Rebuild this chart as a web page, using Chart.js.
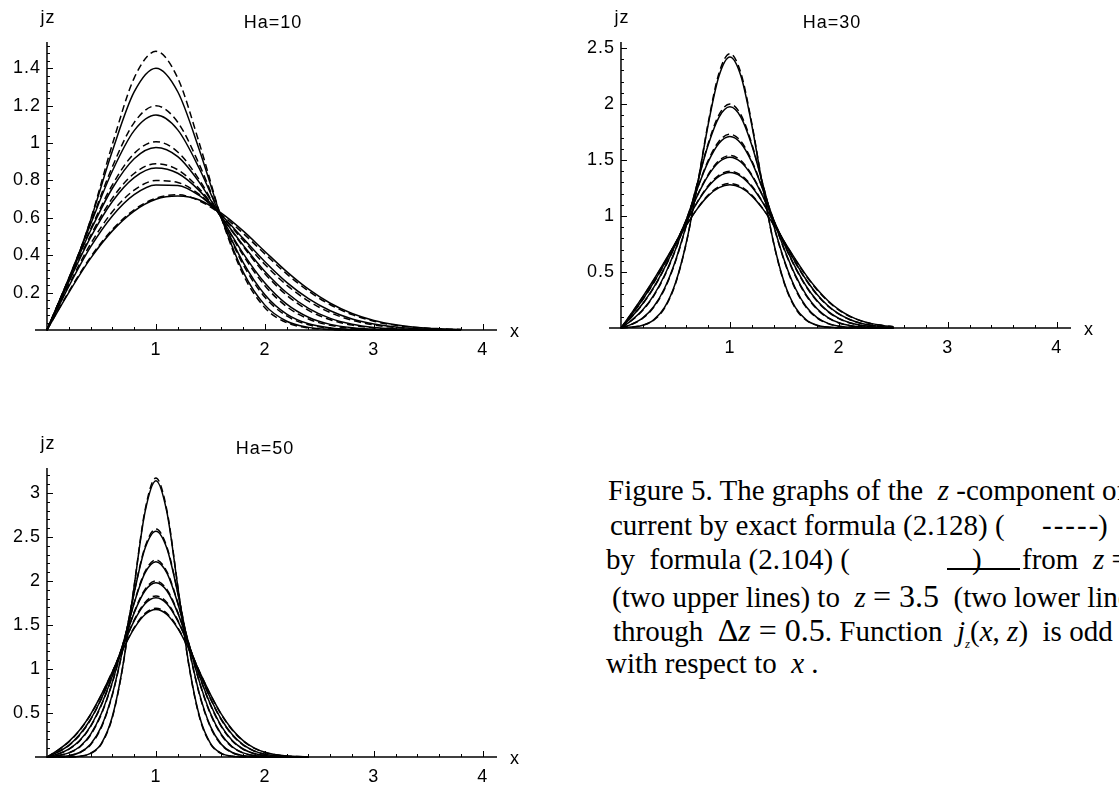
<!DOCTYPE html>
<html>
<head>
<meta charset="utf-8">
<script src="https://cdn.jsdelivr.net/npm/chart.js@4.4.0/dist/chart.umd.min.js"></script>
<style>
  html, body { margin: 0; padding: 0; background: #fff; }
  body { width: 1119px; height: 785px; overflow: hidden; position: relative; }
  .plot { position: absolute; }
  .cap { position: absolute; font-family: "Liberation Serif", "Times New Roman", serif; font-size: 29px; line-height: 1; color: #000; white-space: nowrap; }
  .cap i { font-style: italic; }
  .big { font-size: 32px; }
  .rule { position: absolute; height: 2px; background: #000; }
</style>
</head>
<body>
<div class="plot" style="left:0;top:0"><canvas id="ha10" width="560" height="370"></canvas></div>
<div class="plot" style="left:560px;top:0"><canvas id="ha30" width="559" height="370"></canvas></div>
<div class="plot" style="left:0;top:400px"><canvas id="ha50" width="560" height="385"></canvas></div>

<div class="cap" style="left:608px;top:476px">Figure 5. The graphs of the&nbsp; <i>z</i> -component of the</div>
<div class="cap" style="left:610px;top:511px">current by exact formula (2.128) (</div>
<div class="cap" style="left:1042px;top:511px;letter-spacing:2px">-----</div>
<div class="cap" style="left:1098px;top:511px">)&nbsp;&nbsp; and</div>
<div class="cap" style="left:606px;top:545px">by&nbsp; formula (2.104) (</div>
<div class="cap" style="left:972px;top:545px">)</div>
<div class="rule" style="left:947px;top:568px;width:73px"></div>
<div class="cap" style="left:1022px;top:545px">from&nbsp; <i>z</i> = 1</div>
<div class="cap" style="left:612px;top:580px">(two upper lines) to&nbsp; <i>z</i> <span class="big">= 3.5</span>&nbsp; (two lower lines)</div>
<div class="cap" style="left:613px;top:614px">through&nbsp; <span class="big">&Delta;<i>z</i> = 0.5</span>. Function&nbsp; <i>j</i><sub style="font-size:13px"><i>z</i></sub>(<i>x</i>, <i>z</i>)&nbsp; is odd</div>
<div class="cap" style="left:606px;top:649px">with respect to&nbsp; <i>x</i> .</div>

<script>
// z goes from 1 to 3.5 through 0.5; every level has an exact (dashed) and an approximate (solid) curve
const zLevels = [1, 1.5, 2, 2.5, 3, 3.5];
const xTicks = [1, 2, 3, 4];

// Ha = 10
const xs10 = [0, 0.2, 0.4, 0.6, 0.8, 1, 1.2, 1.4, 1.6, 1.8, 2, 2.2, 2.4, 2.6, 2.8, 3, 3.2, 3.4, 3.6, 3.8];
const exact10 = [
  [0, 0.257, 0.59, 0.993, 1.347, 1.49, 1.347, 0.995, 0.6, 0.297, 0.119, 0.039, 0.011, 0.002, 0, 0, 0, 0, 0, 0],
  [0, 0.275, 0.572, 0.873, 1.109, 1.199, 1.111, 0.882, 0.6, 0.35, 0.175, 0.075, 0.028, 0.009, 0.002, 0, 0, 0, 0, 0],
  [0, 0.274, 0.54, 0.776, 0.944, 1.007, 0.952, 0.801, 0.599, 0.4, 0.237, 0.125, 0.059, 0.025, 0.009, 0.003, 0.001, 0, 0, 0],
  [0, 0.263, 0.505, 0.705, 0.837, 0.889, 0.857, 0.754, 0.606, 0.447, 0.301, 0.186, 0.105, 0.055, 0.026, 0.011, 0.005, 0.002, 0.001, 0],
  [0, 0.24, 0.46, 0.632, 0.748, 0.799, 0.789, 0.724, 0.611, 0.48, 0.35, 0.24, 0.155, 0.093, 0.052, 0.027, 0.013, 0.006, 0.002, 0.001],
  [0, 0.205, 0.39, 0.537, 0.643, 0.705, 0.723, 0.69, 0.617, 0.517, 0.407, 0.3, 0.208, 0.135, 0.082, 0.047, 0.025, 0.013, 0.006, 0.003]
];
const approx10 = [
  [0, 0.263, 0.587, 0.957, 1.273, 1.4, 1.274, 0.96, 0.601, 0.311, 0.133, 0.047, 0.014, 0.003, 0, 0, 0, 0, 0, 0],
  [0, 0.276, 0.566, 0.85, 1.066, 1.149, 1.07, 0.861, 0.6, 0.362, 0.189, 0.085, 0.033, 0.011, 0.003, 0.001, 0, 0, 0, 0],
  [0, 0.272, 0.532, 0.758, 0.916, 0.976, 0.927, 0.788, 0.6, 0.41, 0.251, 0.138, 0.068, 0.03, 0.012, 0.004, 0.001, 0, 0, 0],
  [0, 0.257, 0.495, 0.687, 0.815, 0.866, 0.838, 0.744, 0.606, 0.454, 0.313, 0.199, 0.116, 0.062, 0.031, 0.014, 0.006, 0.002, 0.001, 0],
  [0, 0.233, 0.444, 0.61, 0.724, 0.776, 0.773, 0.718, 0.615, 0.49, 0.365, 0.255, 0.168, 0.103, 0.059, 0.032, 0.016, 0.007, 0.003, 0.001],
  [0, 0.2, 0.383, 0.53, 0.636, 0.699, 0.716, 0.695, 0.625, 0.53, 0.42, 0.312, 0.218, 0.143, 0.088, 0.051, 0.028, 0.014, 0.007, 0.003]
];
const yTicks10 = [0.2, 0.4, 0.6, 0.8, 1, 1.2, 1.4];

// Ha = 30
const xs30 = [0, 0.1, 0.2, 0.3, 0.4, 0.5, 0.6, 0.7, 0.8, 0.9, 1, 1.1, 1.2, 1.3, 1.4, 1.5, 1.6, 1.7, 1.8, 1.9, 2, 2.1, 2.2, 2.3, 2.4, 2.5];
const exact30 = [
  [0, 0.007, 0.023, 0.069, 0.177, 0.395, 0.762, 1.27, 1.83, 2.278, 2.45, 2.278, 1.83, 1.27, 0.762, 0.395, 0.177, 0.069, 0.023, 0.007, 0.002, 0, 0, 0, 0, 0],
  [0, 0.033, 0.087, 0.184, 0.347, 0.593, 0.918, 1.291, 1.646, 1.905, 2, 1.905, 1.646, 1.291, 0.918, 0.593, 0.347, 0.184, 0.089, 0.039, 0.015, 0.006, 0.002, 0.001, 0, 0],
  [0, 0.069, 0.158, 0.286, 0.464, 0.695, 0.965, 1.246, 1.495, 1.668, 1.73, 1.668, 1.495, 1.246, 0.965, 0.695, 0.465, 0.289, 0.167, 0.09, 0.045, 0.021, 0.009, 0.004, 0.001, 0],
  [0, 0.1, 0.215, 0.357, 0.533, 0.74, 0.965, 1.184, 1.37, 1.496, 1.54, 1.496, 1.37, 1.184, 0.965, 0.742, 0.538, 0.368, 0.238, 0.145, 0.083, 0.045, 0.023, 0.011, 0.005, 0.002],
  [0, 0.121, 0.253, 0.402, 0.571, 0.756, 0.946, 1.125, 1.27, 1.366, 1.4, 1.366, 1.27, 1.125, 0.949, 0.762, 0.583, 0.425, 0.295, 0.195, 0.123, 0.074, 0.042, 0.023, 0.012, 0.006],
  [0, 0.135, 0.276, 0.426, 0.587, 0.754, 0.918, 1.066, 1.187, 1.263, 1.29, 1.263, 1.187, 1.069, 0.924, 0.766, 0.609, 0.464, 0.34, 0.238, 0.16, 0.103, 0.064, 0.038, 0.022, 0.012]
];
const approx30 = [
  [0, 0.008, 0.025, 0.073, 0.184, 0.402, 0.766, 1.266, 1.815, 2.252, 2.42, 2.252, 1.815, 1.266, 0.766, 0.402, 0.184, 0.073, 0.025, 0.008, 0.002, 0, 0, 0, 0, 0],
  [0, 0.035, 0.091, 0.19, 0.355, 0.601, 0.922, 1.288, 1.634, 1.884, 1.975, 1.884, 1.634, 1.288, 0.922, 0.601, 0.355, 0.19, 0.093, 0.041, 0.016, 0.006, 0.002, 0.001, 0, 0],
  [0, 0.071, 0.162, 0.292, 0.471, 0.701, 0.967, 1.241, 1.483, 1.65, 1.71, 1.65, 1.483, 1.241, 0.967, 0.701, 0.472, 0.295, 0.171, 0.093, 0.047, 0.022, 0.01, 0.004, 0.001, 0],
  [0, 0.102, 0.219, 0.362, 0.539, 0.745, 0.966, 1.18, 1.36, 1.482, 1.525, 1.482, 1.36, 1.18, 0.966, 0.747, 0.544, 0.374, 0.243, 0.149, 0.086, 0.047, 0.024, 0.012, 0.005, 0.002],
  [0, 0.123, 0.257, 0.407, 0.576, 0.76, 0.947, 1.122, 1.262, 1.355, 1.388, 1.355, 1.262, 1.122, 0.95, 0.766, 0.589, 0.431, 0.3, 0.199, 0.126, 0.076, 0.043, 0.024, 0.012, 0.006],
  [0, 0.137, 0.28, 0.431, 0.592, 0.758, 0.919, 1.064, 1.18, 1.253, 1.279, 1.253, 1.18, 1.066, 0.925, 0.77, 0.615, 0.47, 0.346, 0.243, 0.164, 0.106, 0.066, 0.039, 0.023, 0.012]
];
const yTicks30 = [0.5, 1, 1.5, 2, 2.5];

// Ha = 50
const xs50 = [0, 0.1, 0.2, 0.3, 0.4, 0.5, 0.6, 0.7, 0.8, 0.9, 1, 1.1, 1.2, 1.3, 1.4, 1.5, 1.6, 1.7, 1.8, 1.9, 2, 2.1, 2.2, 2.3, 2.4];
const exact50 = [
  [0, 0, 0.001, 0.008, 0.039, 0.15, 0.45, 1.058, 1.946, 2.806, 3.17, 2.806, 1.946, 1.058, 0.45, 0.15, 0.039, 0.008, 0.001, 0, 0, 0, 0, 0, 0],
  [0, 0.004, 0.014, 0.048, 0.139, 0.339, 0.705, 1.246, 1.871, 2.388, 2.59, 2.388, 1.871, 1.246, 0.705, 0.339, 0.139, 0.048, 0.014, 0.004, 0.001, 0, 0, 0, 0],
  [0, 0.015, 0.045, 0.113, 0.25, 0.488, 0.844, 1.294, 1.755, 2.107, 2.24, 2.107, 1.755, 1.294, 0.844, 0.488, 0.25, 0.113, 0.045, 0.016, 0.005, 0.001, 0, 0, 0],
  [0, 0.033, 0.087, 0.183, 0.345, 0.591, 0.916, 1.289, 1.646, 1.905, 2, 1.905, 1.646, 1.289, 0.916, 0.591, 0.345, 0.183, 0.088, 0.038, 0.015, 0.005, 0.002, 0, 0],
  [0, 0.055, 0.13, 0.248, 0.423, 0.662, 0.955, 1.269, 1.555, 1.757, 1.83, 1.757, 1.555, 1.269, 0.955, 0.662, 0.423, 0.25, 0.136, 0.068, 0.031, 0.013, 0.005, 0.002, 0],
  [0, 0.076, 0.171, 0.302, 0.48, 0.707, 0.968, 1.235, 1.47, 1.632, 1.69, 1.632, 1.47, 1.235, 0.968, 0.707, 0.482, 0.307, 0.182, 0.101, 0.052, 0.025, 0.011, 0.005, 0.002]
];
const approx50 = [
  [0, 0, 0.001, 0.009, 0.042, 0.156, 0.46, 1.065, 1.94, 2.785, 3.14, 2.785, 1.94, 1.065, 0.46, 0.156, 0.042, 0.009, 0.001, 0, 0, 0, 0, 0, 0],
  [0, 0.004, 0.015, 0.051, 0.145, 0.348, 0.714, 1.25, 1.864, 2.371, 2.565, 2.371, 1.864, 1.25, 0.714, 0.348, 0.145, 0.051, 0.015, 0.004, 0.001, 0, 0, 0, 0],
  [0, 0.016, 0.047, 0.117, 0.257, 0.497, 0.851, 1.295, 1.748, 2.092, 2.22, 2.092, 1.748, 1.295, 0.851, 0.497, 0.257, 0.117, 0.047, 0.017, 0.005, 0.001, 0, 0, 0],
  [0, 0.034, 0.09, 0.188, 0.352, 0.599, 0.921, 1.288, 1.638, 1.889, 1.98, 1.889, 1.638, 1.288, 0.921, 0.599, 0.352, 0.188, 0.091, 0.04, 0.016, 0.006, 0.002, 0, 0],
  [0, 0.057, 0.133, 0.255, 0.429, 0.668, 0.958, 1.267, 1.547, 1.742, 1.81, 1.742, 1.547, 1.267, 0.958, 0.668, 0.429, 0.255, 0.14, 0.07, 0.032, 0.014, 0.005, 0.002, 0],
  [0, 0.078, 0.175, 0.307, 0.485, 0.711, 0.969, 1.231, 1.461, 1.619, 1.675, 1.619, 1.461, 1.231, 0.969, 0.711, 0.487, 0.312, 0.186, 0.104, 0.054, 0.026, 0.012, 0.005, 0.002]
];
const yTicks50 = [0.5, 1, 1.5, 2, 2.5, 3];

// Mathematica-like axes: crossing at the origin, ticks pointing inwards
const axesPlugin = {
  id: 'mmaAxes',
  afterDatasetsDraw(chart, args, o) {
    const ctx = chart.ctx;
    const sx = chart.scales.x, sy = chart.scales.y;
    const ox = sx.getPixelForValue(0), oy = sy.getPixelForValue(0);
    const xl = sx.getPixelForValue(sx.min), xr = sx.getPixelForValue(sx.max);
    const yt = sy.getPixelForValue(sy.max);
    ctx.save();
    ctx.strokeStyle = '#000';
    ctx.lineWidth = 1.5;
    ctx.beginPath();
    ctx.moveTo(xl, oy); ctx.lineTo(xr, oy);
    ctx.moveTo(ox, oy + 1); ctx.lineTo(ox, yt);
    ctx.stroke();

    ctx.lineWidth = 1;
    ctx.beginPath();
    for (let k = 1; k * o.xMinor < sx.max; k++) {
      const v = k * o.xMinor;
      const big = o.xTicks.some(t => Math.abs(t - v) < 1e-6);
      const px = Math.round(sx.getPixelForValue(v)) + 0.5;
      ctx.moveTo(px, oy); ctx.lineTo(px, oy - (big ? 6 : 3));
    }
    for (let k = 1; k * o.yMinor < sy.max; k++) {
      const v = k * o.yMinor;
      const big = o.yTicks.some(t => Math.abs(t - v) < 1e-6);
      const py = Math.round(sy.getPixelForValue(v)) + 0.5;
      ctx.moveTo(ox, py); ctx.lineTo(ox + (big ? 6 : 3), py);
    }
    ctx.stroke();

    ctx.fillStyle = '#000';
    ctx.font = '18px "Liberation Sans", Arial, sans-serif';
    ctx.letterSpacing = '1px';
    ctx.textBaseline = 'middle';
    ctx.textAlign = 'right';
    o.yTicks.forEach(t => ctx.fillText(String(t), ox - 6, sy.getPixelForValue(t)));
    ctx.textAlign = 'center';
    o.xTicks.forEach(t => ctx.fillText(String(t), sx.getPixelForValue(t), oy + 20));
    ctx.fillText('x', xr + 18, oy + 2);
    ctx.fillText('jz', ox + 1, yt - 24);
    ctx.fillText(o.title, o.titleX, yt - 19);
    ctx.restore();
  }
};

function makeChart(id, title, titleX, xs, exact, approx, yMax, yTicks, yMinor, pad) {
  const datasets = [];
  zLevels.forEach((z, i) => {
    datasets.push({
      label: 'exact, z=' + z,
      data: xs.map((x, j) => ({ x: x, y: exact[i][j] })),
      borderDash: [7, 4]
    });
    datasets.push({
      label: 'formula, z=' + z,
      data: xs.map((x, j) => ({ x: x, y: approx[i][j] }))
    });
  });
  datasets.forEach(d => {
    d.borderColor = '#000';
    d.borderWidth = 1.5;
    d.pointRadius = 0;
    d.fill = false;
    d.cubicInterpolationMode = 'monotone';
    d.clip = false;
  });

  new Chart(document.getElementById(id), {
    type: 'line',
    data: { datasets: datasets },
    options: {
      responsive: false,
      animation: false,
      layout: { padding: pad },
      scales: {
        x: { type: 'linear', min: -0.11, max: 4.13, display: false },
        y: { type: 'linear', min: 0, max: yMax, display: false }
      },
      plugins: {
        legend: { display: false },
        tooltip: { enabled: false },
        mmaAxes: { title: title, titleX: titleX, xTicks: xTicks, xMinor: 0.2, yTicks: yTicks, yMinor: yMinor }
      }
    },
    plugins: [axesPlugin]
  });
}

makeChart('ha10', 'Ha=10', 273, xs10, exact10, approx10, 1.54, yTicks10, 0.04,
  { left: 35, right: 63, top: 42, bottom: 40 });
makeChart('ha30', 'Ha=30', 272, xs30, exact30, approx30, 2.554, yTicks30, 0.1,
  { left: 49, right: 48, top: 42, bottom: 42 });
makeChart('ha50', 'Ha=50', 265, xs50, exact50, approx50, 3.284, yTicks50, 0.1,
  { left: 35, right: 63, top: 68, bottom: 28 });
</script>
</body>
</html>
